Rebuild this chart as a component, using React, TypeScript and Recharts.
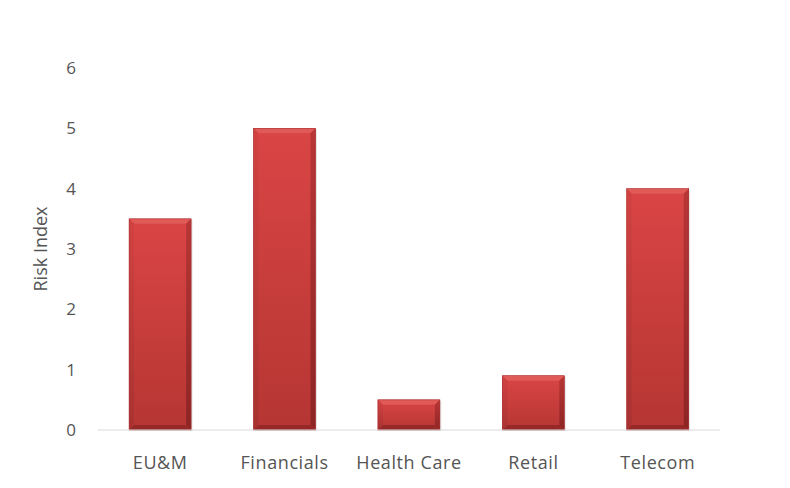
import React from 'react';
import { BarChart, Bar, XAxis, YAxis } from 'recharts';

const categories = ['EU&M', 'Financials', 'Health Care', 'Retail', 'Telecom'];
const riskValues = [3.5, 5, 0.5, 0.9, 4];
const yTicks = [0, 1, 2, 3, 4, 5, 6];

const data = categories.map((name, i) => ({ name, risk: riskValues[i] }));

const font = '"Open Sans", "Liberation Sans", sans-serif';
const textColor = '#555555';

function BevelBar(props: any) {
  const { x, y, width, height } = props;
  if (!height || height <= 0) return null;
  const b = Math.min(5, height / 2, width / 2);
  return (
    <g>
      <rect x={x + 1.5} y={y + 1} width={width} height={height} fill="#000" opacity={0.1} />
      <rect x={x} y={y} width={width} height={height} fill="url(#barBody)" />
      {/* top bevel */}
      <polygon points={`${x},${y} ${x + width},${y} ${x + width - b},${y + b} ${x + b},${y + b}`} fill="#e05a57" />
      {/* left bevel */}
      <polygon points={`${x},${y} ${x + b},${y + b} ${x + b},${y + height - b} ${x},${y + height}`} fill="url(#barLeft)" />
      {/* right bevel */}
      <polygon points={`${x + width},${y} ${x + width},${y + height} ${x + width - b},${y + height - b} ${x + width - b},${y + b}`} fill="url(#barRight)" />
      {/* bottom bevel */}
      <polygon points={`${x},${y + height} ${x + b},${y + height - b} ${x + width - b},${y + height - b} ${x + width},${y + height}`} fill="#962928" />
      <rect x={x} y={y} width={width} height={height} fill="none" stroke="#a83030" strokeWidth={0.6} />
    </g>
  );
}

export default function App() {
  return (
    <div style={{ position: 'absolute', left: 0, top: 0, background: '#fff' }}>
      <BarChart
        width={790}
        height={488}
        data={data}
        margin={{ top: 68, right: 70, bottom: 28, left: 0 }}
        barCategoryGap="25%"
      >
        <defs>
          <linearGradient id="barBody" x1="0" y1="0" x2="0" y2="1">
            <stop offset="0%" stopColor="#da4545" />
            <stop offset="100%" stopColor="#b53633" />
          </linearGradient>
          <linearGradient id="barLeft" x1="0" y1="0" x2="0" y2="1">
            <stop offset="0%" stopColor="#d24242" />
            <stop offset="100%" stopColor="#a83231" />
          </linearGradient>
          <linearGradient id="barRight" x1="0" y1="0" x2="0" y2="1">
            <stop offset="0%" stopColor="#b83636" />
            <stop offset="100%" stopColor="#8d2525" />
          </linearGradient>
        </defs>
        <XAxis
          dataKey="name"
          tickLine={false}
          axisLine={{ stroke: '#d9d9d9', strokeWidth: 1 }}
          tick={{ fill: textColor, fontSize: 18, fontFamily: font, letterSpacing: 0.6 }}
          tickMargin={20}
          interval={0}
        />
        <YAxis
          width={98}
          domain={[0, 6]}
          ticks={yTicks}
          interval={0}
          axisLine={false}
          tickLine={false}
          tickSize={0}
          tickMargin={22}
          tick={{ fill: textColor, fontSize: 17, fontFamily: font }}
          label={{
            value: 'Risk Index',
            angle: -90,
            position: 'insideLeft',
            offset: 41,
            style: { fill: textColor, fontSize: 18, fontFamily: font, textAnchor: 'middle' },
          }}
        />
        <Bar dataKey="risk" shape={<BevelBar />} isAnimationActive={false} />
      </BarChart>
    </div>
  );
}
